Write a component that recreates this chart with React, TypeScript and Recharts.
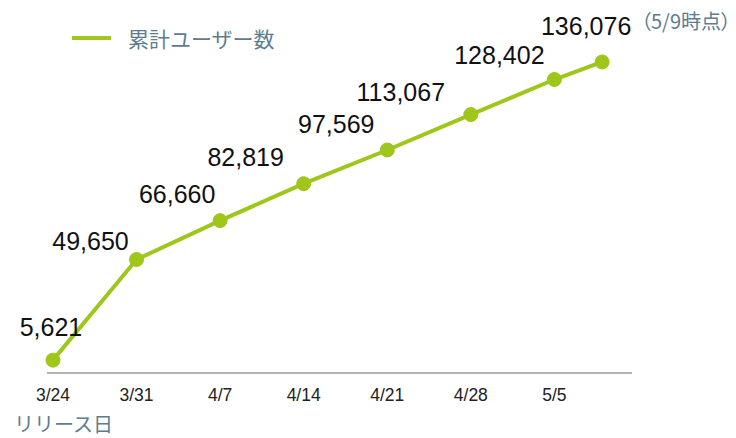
import React from 'react'
import { LineChart, Line, XAxis, YAxis, LabelList } from 'recharts'

// cumulative users, days counted from the 3/24 release
const days = [0, 7, 14, 21, 28, 35, 42, 46]
const users = [5621, 49650, 66660, 82819, 97569, 113067, 128402, 136076]
const tickDays = [0, 7, 14, 21, 28, 35, 42]
const tickLabels = ['3/24', '3/31', '4/7', '4/14', '4/21', '4/28', '5/5']

// where each value label sits relative to its point (center x, baseline y)
const labelOffsets = [
  [-2, -24],
  [-46, -10],
  [-43, -18],
  [-58, -18],
  [-51, -17],
  [-70, -14],
  [-55, -16],
  [-16, -27],
]

const GREEN = '#9ec61b'
const SLATE = '#5d7d8e'
const LATIN = '"Liberation Sans", Arial, sans-serif'
const JP = '"Noto Sans CJK JP", "Noto Sans", sans-serif'

const data = days.map((d, i) => ({ day: d, users: users[i] }))

const ValueLabel = (props: any) => {
  const { x, y, value, index } = props
  const [dx, dy] = labelOffsets[index] || [0, -20]
  return (
    <text x={x + dx} y={y + dy} textAnchor="middle" fontSize={25} fontFamily={LATIN} fill="#111">
      {Number(value).toLocaleString('en-US')}
    </text>
  )
}

export default function App() {
  return (
    <div style={{ position: 'absolute', left: 0, top: 0, width: 736, height: 438, background: '#fff' }}>
      <LineChart width={736} height={438} data={data} margin={{ top: 53, right: 104, bottom: 0, left: 47 }}>
        <XAxis
          dataKey="day"
          type="number"
          domain={[-0.5, 48.5]}
          ticks={tickDays}
          tickFormatter={(v: number) => tickLabels[tickDays.indexOf(v)] ?? ''}
          tickLine={false}
          axisLine={{ stroke: '#999', strokeWidth: 1.5 }}
          tick={{ fill: '#222', fontSize: 17.5, fontFamily: LATIN }}
          tickMargin={10}
          height={65}
          interval={0}
        />
        <YAxis hide domain={[0, 140000]} />
        <Line
          type="linear"
          dataKey="users"
          stroke={GREEN}
          strokeWidth={4}
          dot={{ r: 7, fill: GREEN, stroke: GREEN, strokeWidth: 1 }}
          activeDot={false}
          isAnimationActive={false}
        >
          <LabelList dataKey="users" content={<ValueLabel />} />
        </Line>
      </LineChart>
      {/* legend */}
      <div style={{ position: 'absolute', left: 72, top: 26, display: 'flex', alignItems: 'center' }}>
        <div style={{ width: 39, height: 4, background: GREEN, marginRight: 17 }} />
        <span style={{ fontFamily: JP, fontSize: 21, color: SLATE, lineHeight: '24px', whiteSpace: 'nowrap' }}>累計ユーザー数</span>
      </div>
      <div
        style={{
          position: 'absolute',
          left: 641,
          top: 10,
          fontFamily: JP,
          fontSize: 20,
          lineHeight: '22px',
          color: SLATE,
          whiteSpace: 'nowrap',
          fontFeatureSettings: '"palt"',
        }}
      >
        （5/9時点）
      </div>
      <div style={{ position: 'absolute', left: 14, top: 414, fontFamily: JP, fontSize: 20, lineHeight: '20px', color: SLATE, whiteSpace: 'nowrap' }}>
        リリース日
      </div>
    </div>
  )
}
